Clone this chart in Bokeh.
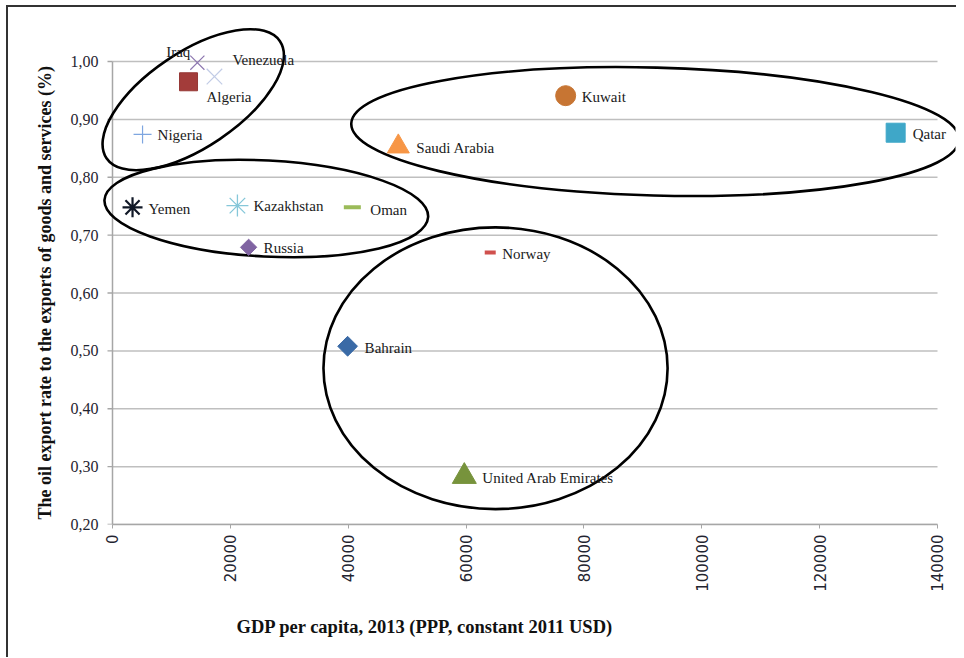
from bokeh.plotting import figure
from bokeh.models import Range1d, FixedTicker, CustomJSTickFormatter, Title
from bokeh.core.properties import value
from bokeh.embed import file_html
from bokeh.resources import INLINE

# ---- data ----
countries = ["Iraq", "Venezuela", "Algeria", "Nigeria", "Yemen", "Kazakhstan", "Oman",
             "Russia", "Kuwait", "Saudi Arabia", "Qatar", "Norway", "Bahrain",
             "United Arab Emirates"]
gdp_per_capita = [14400, 17300, 12900, 5100, 3400, 21200, 40700,
                  23100, 76900, 48500, 132900, 64100, 39900, 59700]
oil_export_rate = [0.998, 0.974, 0.965, 0.874, 0.748, 0.751, 0.748,
                   0.679, 0.941, 0.853, 0.877, 0.670, 0.508, 0.283]

x_ticks = [0, 20000, 40000, 60000, 80000, 100000, 120000, 140000]
y_ticks = [0.2, 0.3, 0.4, 0.5, 0.6, 0.7, 0.8, 0.9, 1.0]

# group ellipses (annotation): centre x, centre y, width (x units), height (y units), angle deg
group_cx = [13700, 26100, 92100, 65000]
group_cy = [0.934, 0.746, 0.879, 0.470]
group_w = [35500, 55000, 103200, 58400]
group_h = [0.164, 0.166, 0.221, 0.487]
group_angle = [34, -3, -1.5, 0]

# ---- styles ----
marker_style = {
    "Iraq": dict(marker="x", size=20, angle=0, line_color="#8E78B0", fill_color=None, line_width=1.2),
    "Venezuela": dict(marker="x", size=22, angle=0, line_color="#C2CCE6", fill_color=None, line_width=1.2),
    "Algeria": dict(marker="square", size=18, angle=0, line_color="#953735", fill_color="#A33C3A", line_width=1),
    "Nigeria": dict(marker="cross", size=18, angle=0, line_color="#7EA6E0", fill_color=None, line_width=1.2),
    "Yemen": dict(marker="asterisk", size=20, angle=0, line_color="#111827", fill_color=None, line_width=2.2),
    "Kazakhstan": dict(marker="asterisk", size=22, angle=0, line_color="#86C7D9", fill_color=None, line_width=1.3),
    "Oman": dict(marker="dash", size=17, angle=0, line_color="#9BBB59", fill_color=None, line_width=4),
    "Russia": dict(marker="square", size=11.5, angle=45, line_color="#8064A2", fill_color="#8064A2", line_width=1),
    "Kuwait": dict(marker="circle", size=20, angle=0, line_color="#C77533", fill_color="#C77533", line_width=1),
    "Saudi Arabia": dict(marker="triangle", size=22, angle=0, line_color="#F79646", fill_color="#F79646", line_width=1),
    "Qatar": dict(marker="square", size=19, angle=0, line_color="#3FA7C8", fill_color="#3FA7C8", line_width=1),
    "Norway": dict(marker="dash", size=11, angle=0, line_color="#D0504D", fill_color=None, line_width=4),
    "Bahrain": dict(marker="square", size=14, angle=45, line_color="#3A6AA6", fill_color="#3A6AA6", line_width=1),
    "United Arab Emirates": dict(marker="triangle", size=24, angle=0, line_color="#77933C", fill_color="#77933C", line_width=1),
}
label_offset = {
    "Iraq": (-7, -11, "right"), "Venezuela": (18, -17, "left"), "Algeria": (18, 15, "left"),
    "Nigeria": (15, 1, "left"), "Yemen": (16, 2, "left"), "Kazakhstan": (16, 0, "left"),
    "Oman": (18, 3, "left"), "Russia": (15, 1, "left"), "Kuwait": (16, 1, "left"),
    "Saudi Arabia": (18, 1, "left"), "Qatar": (17, 1, "left"), "Norway": (12, 1, "left"),
    "Bahrain": (17, 2, "left"), "United Arab Emirates": (18, 2, "left"),
}

# frame extends a little beyond the axes so the group ellipses are not clipped
p = figure(frame_width=855, frame_height=501,
           min_border_left=92, min_border_right=1, min_border_top=16, min_border_bottom=125,
           x_range=Range1d(-2036, 143055), y_range=Range1d(0.2, 1.0657),
           output_backend="svg", toolbar_location=None,
           background_fill_color="white", border_fill_color="white")
p.outline_line_color = None
p.styles = {"border-left": "2px solid #333333", "border-top": "2px solid #333333",
            "margin-left": "6px", "margin-top": "5px"}

# grid: horizontal lines only between the axis bounds
p.xgrid.grid_line_color = None
p.ygrid.grid_line_color = None
p.segment(x0=[x_ticks[0]] * len(y_ticks), x1=[x_ticks[-1]] * len(y_ticks),
          y0=y_ticks, y1=y_ticks, line_color="#BFBFBF", line_width=1.5)

# y axis line and outward tick marks at x = 0
p.segment(x0=[x_ticks[0]], x1=[x_ticks[0]], y0=[y_ticks[0]], y1=[y_ticks[-1]],
          line_color="#A6A6A6", line_width=1.5)
p.ray(x=[x_ticks[0]] * len(y_ticks), y=y_ticks, length=5, length_units="screen",
      angle=180, angle_units="deg", line_color="#A6A6A6", line_width=1.3)

# y axis (labels only; sits at the frame's left edge)
yax = p.yaxis[0]
yax.ticker = FixedTicker(ticks=y_ticks)
yax.formatter = CustomJSTickFormatter(code="return tick.toFixed(2).replace('.', ',');")
yax.axis_line_color = None
yax.major_tick_line_color = None
yax.major_tick_out = 0
yax.major_tick_in = 0
yax.minor_tick_line_color = None
yax.major_label_text_font = "Liberation Serif"
yax.major_label_text_font_size = "16px"
yax.major_label_text_color = "#1F2430"
yax.major_label_standoff = 2

yt = Title(text="The oil export rate to the exports of goods and services (%)", align="left", offset=5,
           text_font="Liberation Serif", text_font_style="bold", text_font_size="18px",
           text_color="#111111", standoff=26)
p.add_layout(yt, "left")

# x axis
xax = p.xaxis[0]
xax.bounds = (x_ticks[0], x_ticks[-1])
xax.ticker = FixedTicker(ticks=x_ticks)
xax.formatter = CustomJSTickFormatter(code="return tick.toFixed(0);")
xax.major_label_orientation = 1.5708
xax.axis_line_color = "#A6A6A6"
xax.axis_line_width = 1.5
xax.major_tick_line_color = "#A6A6A6"
xax.major_tick_out = 4
xax.major_tick_in = 0
xax.minor_tick_line_color = None
xax.major_label_text_font = "DejaVu Sans"
xax.major_label_text_font_size = "15px"
xax.major_label_text_color = "#1F2430"
xax.major_label_standoff = 6

xt = Title(text="GDP per capita, 2013 (PPP, constant 2011 USD)", align="left", offset=136,
           text_font="Liberation Serif", text_font_style="bold", text_font_size="18.5px",
           text_color="#111111", standoff=41)
p.add_layout(xt, "below")

# group ellipses
p.ellipse(x=group_cx, y=group_cy, width=group_w, height=group_h, angle=group_angle,
          angle_units="deg", fill_color=None, line_color="black", line_width=2.6)

# markers and labels
for name, gx, gy in zip(countries, gdp_per_capita, oil_export_rate):
    st = marker_style[name]
    p.scatter(x=[gx], y=[gy], marker=st["marker"], size=st["size"], angle=st["angle"],
              angle_units="deg",
              line_color=st["line_color"], fill_color=st["fill_color"], line_width=st["line_width"])
    dx, dy, al = label_offset[name]
    p.text(x=[gx], y=[gy], text=[name], x_offset=dx, y_offset=dy,
           text_align=al, text_baseline="middle",
           text_font=value("Liberation Serif"), text_font_size="15px", text_color="#1A1A1A")

open("out.html", "w").write(file_html(p, INLINE))
